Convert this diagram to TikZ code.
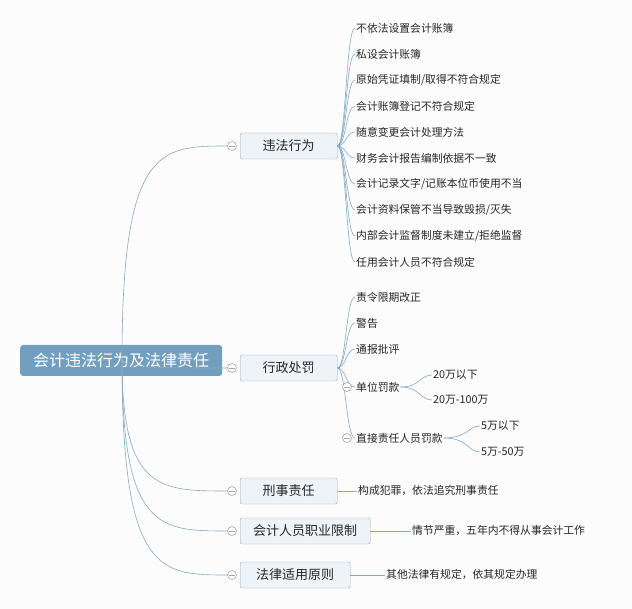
\documentclass[tikz,border=0pt]{standalone}
\usepackage{fontspec}
\setmainfont{Noto Sans CJK SC}
\definecolor{rootc}{HTML}{739FBF}
\definecolor{linec}{HTML}{86AAC4}
\definecolor{boxf}{HTML}{EEF3F7}
\definecolor{boxd}{HTML}{8DADC6}
\begin{document}
\begin{tikzpicture}[x=1pt,y=-1pt,
  ln/.style={draw=linec, line width=0.6pt},
  l1/.style={draw=boxd, fill=boxf, rounded corners=2pt, minimum height=26pt, font=\fontsize{13}{13}\selectfont, text=black!85, inner xsep=8pt, anchor=west},
  leaf/.style={font=\fontsize{10.8}{11}\selectfont, text=black!85, anchor=west, inner sep=1pt},
  col/.style={circle, draw=gray!70, fill=white, minimum size=9pt, inner sep=0pt, line width=0.6pt}]
\useasboundingbox[fill=gray!2] (0,0) rectangle (632,609);
\node[fill=rootc, rounded corners=3pt, text=white, font=\fontsize{16}{16}\selectfont, minimum width=202pt, minimum height=31pt, anchor=west] (root) at (20,360.5) {会计违法行为及法律责任};
\coordinate (r0) at (122,360);
% level 1
\node[l1, minimum width=97pt] (a) at (240,146) {违法行为};
\node[l1, minimum width=97pt] (b) at (240,368) {行政处罚};
\node[l1, minimum width=97pt] (c) at (240,491) {刑事责任};
\node[l1, minimum width=130pt] (d) at (240,531) {会计人员职业限制};
\node[l1, minimum width=110pt] (e) at (240,575) {法律适用原则};
\foreach \n/\y in {a/146,b/368,c/491,d/531,e/575}{
  \draw[ln] (r0) .. controls (122,{\y}) and (160,\y) .. (228,\y);
  \node[col] (k\n) at (232,\y) {};
  \draw[gray!70, line width=0.6pt] (229,\y) -- (235,\y);
}
% leaves of a
\foreach \t [count=\i] in {不依法设置会计账簿,私设会计账簿,原始凭证填制/取得不符合规定,会计账簿登记不符合规定,随意变更会计处理方法,财务会计报告编制依据不一致,会计记录文字/记账本位币使用不当,会计资料保管不当导致毁损/灭失,内部会计监督制度未建立/拒绝监督,任用会计人员不符合规定}{
  \pgfmathsetmacro\yy{28+26*(\i-1)}
  \node[leaf] (a\i) at (355,\yy) {\t};
  \draw[ln] (a.east) .. controls (346,146) and (346,\yy) .. (a\i.west);
}
% leaves of b
\foreach \t/\y [count=\i] in {责令限期改正/297,警告/323,通报批评/349}{
  \node[leaf] (b\i) at (355,\y) {\t};
  \draw[ln] (b.east) .. controls (346,368) and (346,\y) .. (b\i.west);
}
\node[leaf] (b4) at (355,387) {单位罚款};
\node[leaf] (b5) at (355,438) {直接责任人员罚款};
\draw[ln] (b.east) .. controls (346,368) and (346,387) .. (b4.west);
\draw[ln] (b.east) .. controls (346,368) and (346,438) .. (b5.west);
\node[col] at (347,387) {}; \draw[gray!70,line width=0.6pt] (344,387) -- (350,387);
\node[col] at (347,438) {}; \draw[gray!70,line width=0.6pt] (344,438) -- (350,438);
\node[leaf] (c1) at (432,375) {20万以下};
\node[leaf] (c2) at (432,400) {20万-100万};
\draw[ln] (b4.east) .. controls (420,387) and (420,375) .. (c1.west);
\draw[ln] (b4.east) .. controls (420,387) and (420,400) .. (c2.west);
\node[leaf] (d1) at (480,426) {5万以下};
\node[leaf] (d2) at (480,452) {5万-50万};
\draw[ln] (b5.east) .. controls (468,438) and (468,426) .. (d1.west);
\draw[ln] (b5.east) .. controls (468,438) and (468,452) .. (d2.west);
% other leaves
\node[leaf] (c0) at (357,491) {构成犯罪，依法追究刑事责任};
\draw[ln] (c.east) -- (c0.west);
\node[leaf] (d0) at (411,531) {情节严重，五年内不得从事会计工作};
\draw[ln] (d.east) -- (d0.west);
\node[leaf] (e0) at (385,575) {其他法律有规定，依其规定办理};
\draw[ln] (e.east) -- (e0.west);
\end{tikzpicture}
\end{document}
